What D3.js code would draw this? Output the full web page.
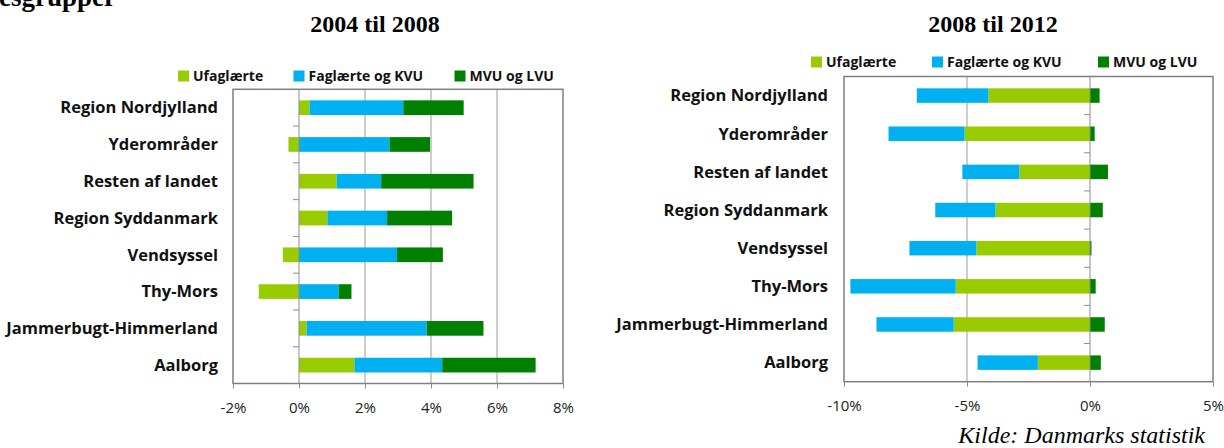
<!DOCTYPE html>
<html>
<head>
<meta charset="utf-8">
<script src="https://cdn.jsdelivr.net/npm/d3@7"></script>
<style>
  body { margin: 0; background: #fff; }
  svg { display: block; }
  .cat { font-family: "Open Sans", sans-serif; font-weight: 700; font-size: 16.5px; fill: #111; }
  .leg { font-family: "Open Sans", sans-serif; font-weight: 700; font-size: 14px; fill: #111; }
  .tick text { font-family: "Open Sans", sans-serif; font-size: 15px; fill: #222; }
  .ttl { font-family: "Liberation Serif", "Times New Roman", serif; font-weight: 700; font-size: 24px; fill: #000; }
</style>
</head>
<body>
<div id="chart"></div>
<script>
const categories = ["Region Nordjylland", "Yderområder", "Resten af landet", "Region Syddanmark",
  "Vendsyssel", "Thy-Mors", "Jammerbugt-Himmerland", "Aalborg"];
const seriesNames = ["Ufaglærte", "Faglærte og KVU", "MVU og LVU"];
const seriesColors = ["#99CC00", "#00B0F0", "#008000"];

// 2004 til 2008 (procent)
const ufag0408 = [0.32, -0.32, 1.14, 0.86, -0.49, -1.22, 0.23, 1.68];
const fag0408  = [2.84, 2.74, 1.35, 1.81, 2.97, 1.20, 3.64, 2.66];
const mvu0408  = [1.83, 1.23, 2.80, 1.97, 1.39, 0.39, 1.72, 2.83];
const ticks0408 = [-2, 0, 2, 4, 6, 8];

// 2008 til 2012 (procent)
const ufag0812 = [-4.13, -5.10, -2.87, -3.84, -4.62, -5.46, -5.54, -2.12];
const fag0812  = [-2.91, -3.09, -2.32, -2.45, -2.72, -4.28, -3.14, -2.45];
const mvu0812  = [0.39, 0.19, 0.73, 0.52, 0.06, 0.23, 0.60, 0.44];
const ticks0812 = [-10, -5, 0, 5];

const W = 1224, H = 448;
const svg = d3.select("#chart").append("svg").attr("width", W).attr("height", H);

// heading, cut off by the top edge as in the original
svg.append("text").attr("class", "ttl")
  .attr("x", 116).attr("y", 6).attr("text-anchor", "end")
  .style("font-size", "27px")
  .text("Beskæftigede fordelt på uddannelsesgrupper");

function drawPanel(opt) {
  const rows = categories.map((c, i) => ({ cat: c, s0: opt.u[i], s1: opt.f[i], s2: opt.m[i] }));
  const stack = d3.stack().keys(["s0", "s1", "s2"]).offset(d3.stackOffsetDiverging);
  const layers = stack(rows);

  const x = d3.scaleLinear().domain(d3.extent(opt.ticks)).range([opt.left, opt.right]);
  const y = d3.scaleBand().domain(categories).range([opt.top, opt.bottom]).paddingInner(opt.pad).paddingOuter(opt.pad / 2);
  const yb = d3.scaleBand().domain(categories).range([opt.top, opt.bottom]);

  const g = svg.append("g");

  // gridlines
  g.selectAll(".grid").data(opt.ticks.filter(t => t !== 0 && t !== opt.ticks[0] && t !== opt.ticks[opt.ticks.length - 1]))
    .enter().append("line")
    .attr("x1", d => x(d)).attr("x2", d => x(d))
    .attr("y1", opt.top).attr("y2", opt.bottom)
    .attr("stroke", "#9a9a9a").attr("stroke-width", 1);

  // bars
  layers.forEach((layer, k) => {
    g.append("g").attr("fill", seriesColors[k])
      .selectAll("rect").data(layer).enter().append("rect")
      .attr("x", d => x(Math.min(d[0], d[1])))
      .attr("width", d => Math.abs(x(d[1]) - x(d[0])))
      .attr("y", d => y(d.data.cat))
      .attr("height", y.bandwidth());
  });

  // category axis at 0
  g.append("line")
    .attr("x1", x(0)).attr("x2", x(0)).attr("y1", opt.top).attr("y2", opt.bottom)
    .attr("stroke", "#8c8c8c").attr("stroke-width", 1);
  g.selectAll(".ctick").data(categories.slice(1)).enter().append("line")
    .attr("x1", x(0) - 6).attr("x2", x(0))
    .attr("y1", d => yb(d)).attr("y2", d => yb(d))
    .attr("stroke", "#8c8c8c");

  // frame
  g.append("rect")
    .attr("x", opt.left).attr("y", opt.top)
    .attr("width", opt.right - opt.left).attr("height", opt.bottom - opt.top)
    .attr("fill", "none").attr("stroke", "#7f7f7f").attr("stroke-width", 1.5);

  // value axis
  const xAxis = d3.axisBottom(x).tickValues(opt.ticks).tickSize(5).tickPadding(14)
    .tickFormat(d => d + "%");
  const ax = g.append("g").attr("transform", `translate(0,${opt.bottom})`).call(xAxis);
  ax.select(".domain").remove();
  ax.selectAll(".tick line").attr("stroke", "#8c8c8c");

  // category labels
  g.selectAll(".cat").data(categories).enter().append("text")
    .attr("class", "cat")
    .attr("x", opt.labelX)
    .attr("y", d => yb(d) + yb.bandwidth() / 2)
    .attr("dy", "0.35em")
    .attr("text-anchor", "end")
    .text(d => d);

  // title
  svg.append("text").attr("class", "ttl")
    .attr("x", opt.titleX).attr("y", 32).attr("text-anchor", "middle")
    .text(opt.title);

  // legend
  const lg = svg.append("g");
  seriesNames.forEach((name, k) => {
    lg.append("rect")
      .attr("x", opt.legX[k]).attr("y", opt.legY - 5.5)
      .attr("width", 11).attr("height", 11)
      .attr("fill", seriesColors[k]);
    lg.append("text").attr("class", "leg")
      .attr("x", opt.legX[k] + 15).attr("y", opt.legY).attr("dy", "0.35em")
      .text(name);
  });
}

drawPanel({
  u: ufag0408, f: fag0408, m: mvu0408, ticks: ticks0408,
  left: 233, right: 563, top: 89.3, bottom: 383.5, pad: 0.6,
  labelX: 218, title: "2004 til 2008", titleX: 375,
  legX: [178, 293.5, 454.5], legY: 76
});

drawPanel({
  u: ufag0812, f: fag0812, m: mvu0812, ticks: ticks0812,
  left: 844, right: 1213, top: 76.5, bottom: 381.7, pad: 0.62,
  labelX: 828, title: "2008 til 2012", titleX: 993,
  legX: [811, 932, 1098], legY: 62
});

svg.append("text")
  .attr("x", 1205).attr("y", 443)
  .attr("text-anchor", "end")
  .style("font-family", "'Liberation Serif', 'Times New Roman', serif")
  .style("font-style", "italic").style("font-size", "24px")
  .text("Kilde: Danmarks statistik");
</script>
</body>
</html>
